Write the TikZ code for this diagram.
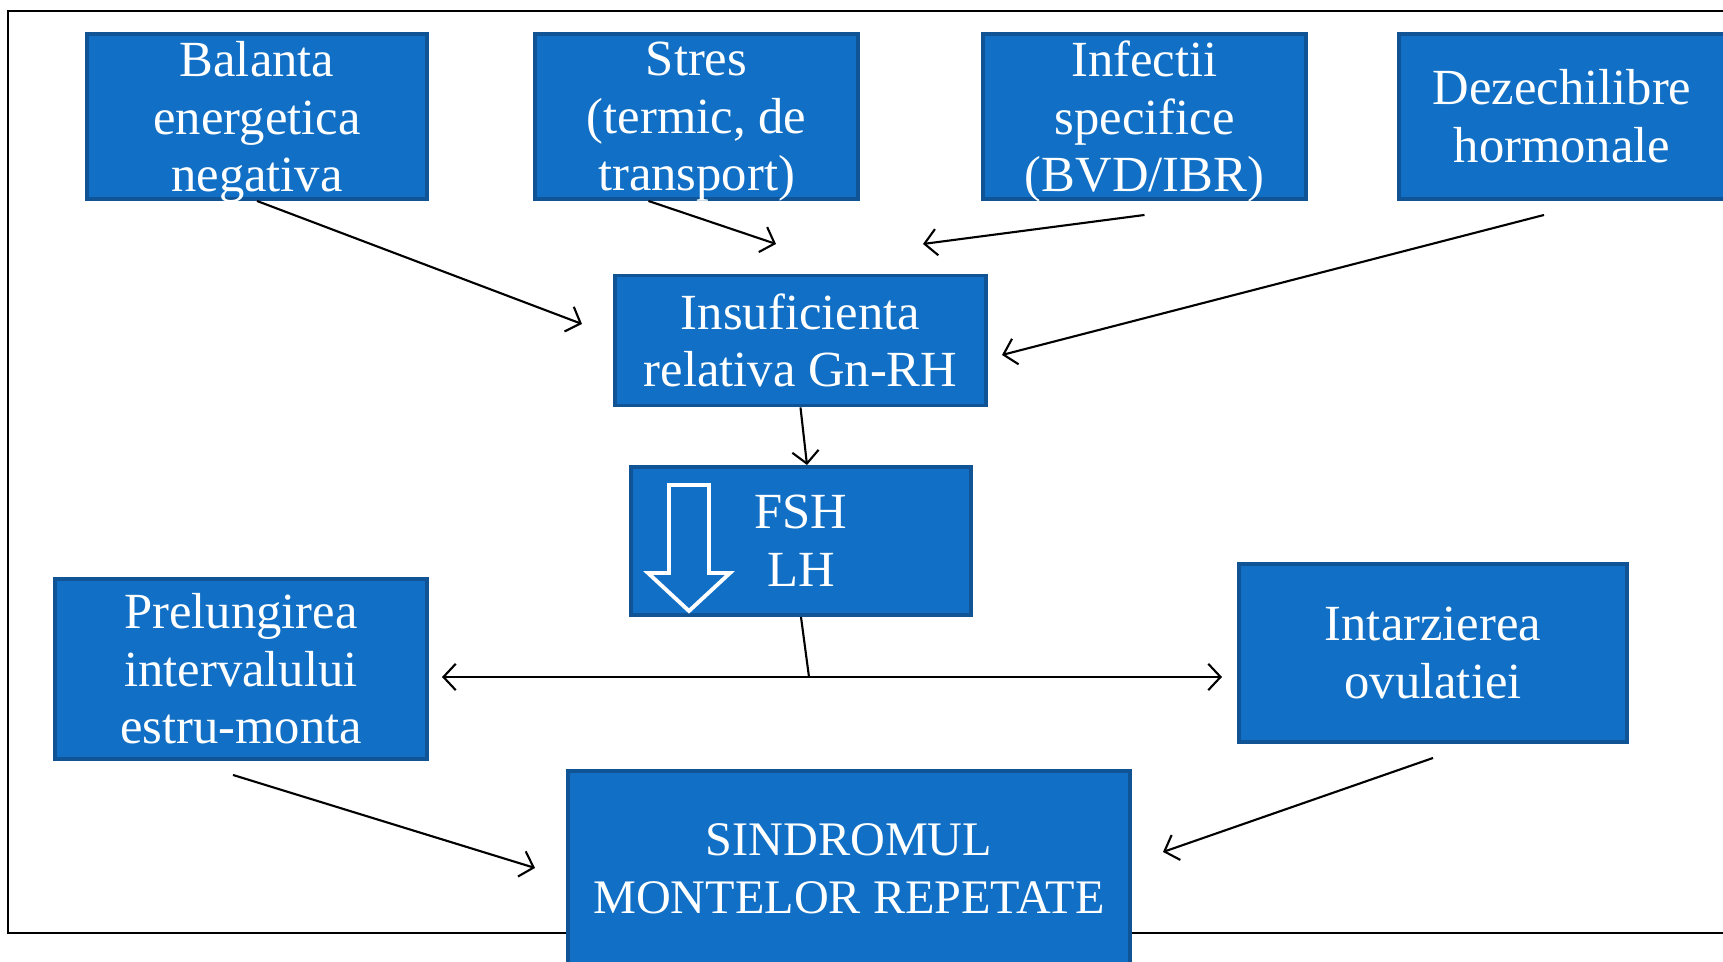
\documentclass[tikz,border=0pt]{standalone}
\usepackage{fontspec}
\setmainfont{Liberation Serif}
\usetikzlibrary{arrows.meta}
\definecolor{boxblue}{RGB}{17,112,198}
\definecolor{boxedge}{RGB}{16,84,150}

\begin{document}
\begin{tikzpicture}[x=0.01cm, y=-0.01cm, line width=0.6pt,
        >={Straight Barb[length=3.5pt,width=7.5pt]},
        box/.style = {draw=boxedge, fill=boxblue, text=white, line width=1.1pt, inner sep=0pt, align=center, font=\fontsize{14.4}{16.4}\selectfont},
        topbox/.style = {box, minimum height=1.65cm, text depth=-0.9pt},
        link/.style = {->, draw=black}]
    \useasboundingbox (0,0) rectangle (1723,962);
    \draw (8,11) rectangle (1740,933);

    \node[topbox, minimum width=3.40cm] (bal) at (257,116.5) {Balanta\\energetica\\negativa};
    \node[topbox, minimum width=3.23cm] (str) at (696.5,116.5) {Stres\\(termic, de\\transport)};
    \node[topbox, minimum width=3.22cm] (inf) at (1144.5,116.5) {Infectii\\specifice\\(BVD/IBR)};
    \node[box, minimum width=3.26cm, minimum height=1.65cm] (dez) at (1562,116.5) {Dezechilibre\\hormonale};
    \node[box, minimum width=3.70cm, minimum height=1.30cm] (gnrh) at (800.5,340.5) {Insuficienta\\relativa Gn-RH};
    \node[box, minimum width=3.40cm, minimum height=1.48cm] (fsh) at (801,541) {FSH\\LH};
    \node[box, minimum width=3.72cm, minimum height=1.80cm] (prel) at (241,669) {Prelungirea\\intervalului\\estru-monta};
    \node[box, minimum width=3.87cm, minimum height=1.78cm] (intz) at (1433,653) {Intarzierea\\ovulatiei};
    \node[box, minimum width=5.62cm, minimum height=1.96cm, font=\fontsize{13.7}{16.4}\selectfont] (smr) at (849,869) {SINDROMUL\\MONTELOR REPETATE};

    \draw[white, line width=1.1pt, line join=miter] (669,485) -- (709,485) -- (709,573) -- (730,573) -- (689,611) -- (648,573) -- (669,573) -- cycle;

    \coordinate (e1) at (582,324);
    \coordinate (e2) at (776,244);
    \coordinate (e3) at (923,244);
    \coordinate (e4) at (1002,355);
    \coordinate (split) at (809,677);
    \coordinate (e6l) at (442,677);
    \coordinate (e6r) at (1222,677);
    \coordinate (e7) at (535,868);
    \coordinate (e8) at (1163,852);

    \draw[link] (bal.south) -- (e1);
    \draw[link] ([xshift=-0.48cm]str.south) -- (e2);
    \draw[link] ([yshift=-0.14cm]inf.south) -- (e3);
    \draw[link] ([xshift=-0.18cm,yshift=-0.14cm]dez.south) -- (e4);
    \draw[link] (gnrh.south) -- ([xshift=0.06cm]fsh.north);
    \draw (fsh.south) -- (split);
    \draw[link] (split) -- (e6l);
    \draw[link] (split) -- (e6r);
    \draw[link] ([xshift=-0.08cm,yshift=-0.14cm]prel.south) -- (e7);
    \draw[link] ([yshift=-0.14cm]intz.south) -- (e8);
\end{tikzpicture}
\end{document}
